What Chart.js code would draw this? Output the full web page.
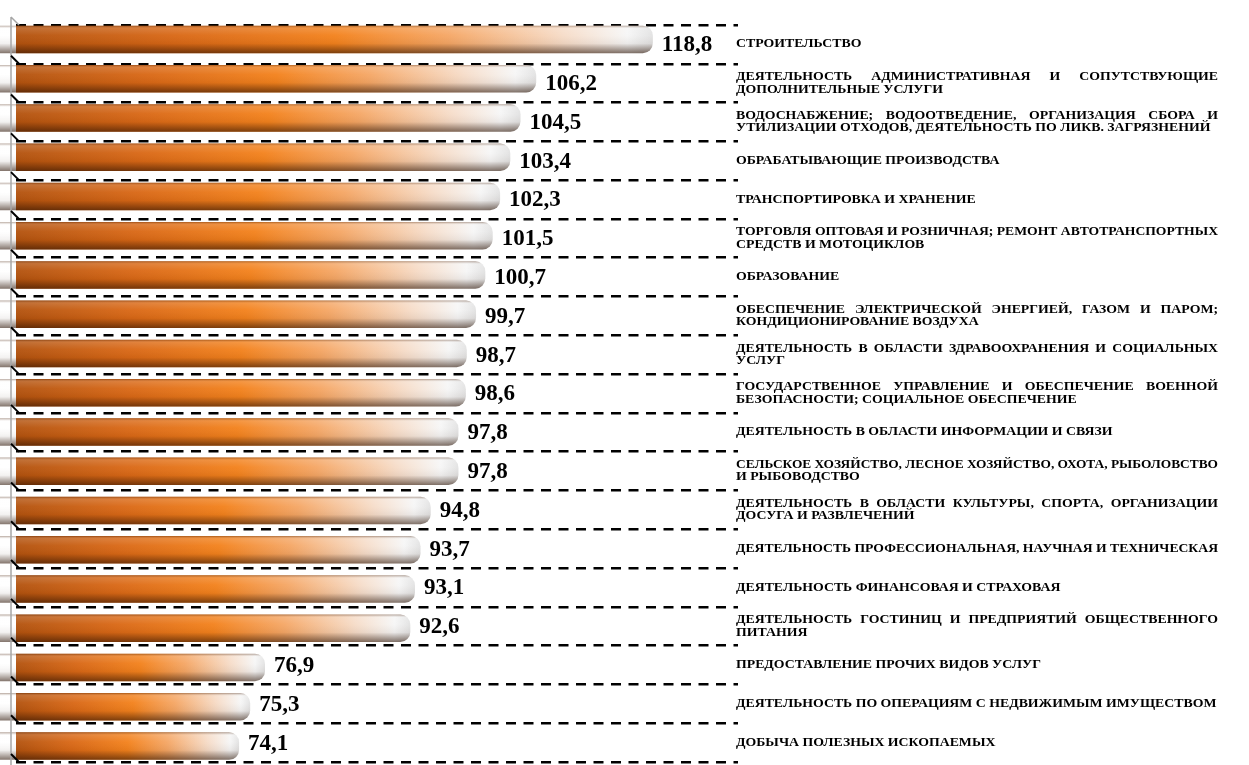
<!DOCTYPE html>
<html lang="ru">
<head>
<meta charset="utf-8">
<title>Индексы по видам экономической деятельности</title>
<script src="https://cdn.jsdelivr.net/npm/chart.js@4"></script>
<style>
  html, body { margin: 0; padding: 0; background: #fff; }
  #chart { display: block; }
</style>
</head>
<body>
<canvas id="chart" width="1249" height="765"></canvas>
<script>
// Виды деятельности (строки подписи как на исходном рисунке), сверху вниз
const categories = [
    ['СТРОИТЕЛЬСТВО'],
    ['ДЕЯТЕЛЬНОСТЬ АДМИНИСТРАТИВНАЯ И СОПУТСТВУЮЩИЕ', 'ДОПОЛНИТЕЛЬНЫЕ УСЛУГИ'],
    ['ВОДОСНАБЖЕНИЕ; ВОДООТВЕДЕНИЕ, ОРГАНИЗАЦИЯ СБОРА И', 'УТИЛИЗАЦИИ ОТХОДОВ, ДЕЯТЕЛЬНОСТЬ ПО ЛИКВ. ЗАГРЯЗНЕНИЙ'],
    ['ОБРАБАТЫВАЮЩИЕ ПРОИЗВОДСТВА'],
    ['ТРАНСПОРТИРОВКА И ХРАНЕНИЕ'],
    ['ТОРГОВЛЯ ОПТОВАЯ И РОЗНИЧНАЯ; РЕМОНТ АВТОТРАНСПОРТНЫХ', 'СРЕДСТВ И МОТОЦИКЛОВ'],
    ['ОБРАЗОВАНИЕ'],
    ['ОБЕСПЕЧЕНИЕ ЭЛЕКТРИЧЕСКОЙ ЭНЕРГИЕЙ, ГАЗОМ И ПАРОМ;', 'КОНДИЦИОНИРОВАНИЕ ВОЗДУХА'],
    ['ДЕЯТЕЛЬНОСТЬ В ОБЛАСТИ ЗДРАВООХРАНЕНИЯ И СОЦИАЛЬНЫХ', 'УСЛУГ'],
    ['ГОСУДАРСТВЕННОЕ УПРАВЛЕНИЕ И ОБЕСПЕЧЕНИЕ ВОЕННОЙ', 'БЕЗОПАСНОСТИ; СОЦИАЛЬНОЕ ОБЕСПЕЧЕНИЕ'],
    ['ДЕЯТЕЛЬНОСТЬ В ОБЛАСТИ ИНФОРМАЦИИ И СВЯЗИ'],
    ['СЕЛЬСКОЕ ХОЗЯЙСТВО, ЛЕСНОЕ ХОЗЯЙСТВО, ОХОТА, РЫБОЛОВСТВО', 'И РЫБОВОДСТВО'],
    ['ДЕЯТЕЛЬНОСТЬ В ОБЛАСТИ КУЛЬТУРЫ, СПОРТА, ОРГАНИЗАЦИИ', 'ДОСУГА И РАЗВЛЕЧЕНИЙ'],
    ['ДЕЯТЕЛЬНОСТЬ ПРОФЕССИОНАЛЬНАЯ, НАУЧНАЯ И ТЕХНИЧЕСКАЯ'],
    ['ДЕЯТЕЛЬНОСТЬ ФИНАНСОВАЯ И СТРАХОВАЯ'],
    ['ДЕЯТЕЛЬНОСТЬ ГОСТИНИЦ И ПРЕДПРИЯТИЙ ОБЩЕСТВЕННОГО', 'ПИТАНИЯ'],
    ['ПРЕДОСТАВЛЕНИЕ ПРОЧИХ ВИДОВ УСЛУГ'],
    ['ДЕЯТЕЛЬНОСТЬ ПО ОПЕРАЦИЯМ С НЕДВИЖИМЫМ ИМУЩЕСТВОМ'],
    ['ДОБЫЧА ПОЛЕЗНЫХ ИСКОПАЕМЫХ']
];

// Значения индекса, %
const values = [118.8, 106.2, 104.5, 103.4, 102.3, 101.5, 100.7, 99.7, 98.7, 98.6,
                97.8, 97.8, 94.8, 93.7, 93.1, 92.6, 76.9, 75.3, 74.1];

// Подписи значений (десятичная запятая)
const valueLabels = ['118,8', '106,2', '104,5', '103,4', '102,3', '101,5', '100,7', '99,7', '98,7', '98,6',
                     '97,8', '97,8', '94,8', '93,7', '93,1', '92,6', '76,9', '75,3', '74,1'];

// Границы шкалы значений
const AXIS_MIN = 50;
const AXIS_MAX = 128;

// Перспектива: верхний бар чуть выше центра строки, нижний чуть ниже
const SHIFT_FIRST = -5;
const SHIFT_LAST = 3.5;

const LABEL_FONT = 'bold 12px "Liberation Serif", "Times New Roman", serif';
const LABEL_SCALE_X = 1.15;    // текст подписей на исходнике слегка растянут
const LABEL_LINE = 12.5;
const LABEL_X = 736;
const LABEL_W = 482;

// Горизонтальный градиент бара: от оранжевого к белому у торца
function barGradient(context) {
    const chart = context.chart;
    if (!chart.chartArea) return '#e9781c';
    const xs = chart.scales.x;
    const x0 = xs.getPixelForValue(AXIS_MIN);
    const x1 = xs.getPixelForValue(context.raw);
    const g = chart.ctx.createLinearGradient(x0, 0, x1, 0);
    g.addColorStop(0, '#b3530f');
    g.addColorStop(0.25, '#d96816');
    g.addColorStop(0.5, '#f3821d');
    g.addColorStop(0.68, '#f5a766');
    g.addColorStop(0.86, '#f6dcc8');
    g.addColorStop(0.96, '#f6f6f6');
    g.addColorStop(1, '#e2e2e2');
    return g;
}

// Рисует строку с выравниванием по ширине
function drawJustified(ctx, text, x, y, width, justify) {
    const words = text.split(' ');
    const natural = ctx.measureText(text).width * LABEL_SCALE_X;
    let sx = LABEL_SCALE_X;
    if (natural > width) sx = sx * width / natural;
    ctx.save();
    ctx.translate(x, y);
    ctx.scale(sx, 1);
    if (!justify || words.length < 2) {
        ctx.fillText(text, 0, 0);
    } else {
        const wordsW = words.reduce((s, w) => s + ctx.measureText(w).width, 0);
        const gap = (width / sx - wordsW) / (words.length - 1);
        let cx = 0;
        words.forEach(w => {
            ctx.fillText(w, cx, 0);
            cx += ctx.measureText(w).width + gap;
        });
    }
    ctx.restore();
}

const barDecor = {
    id: 'barDecor',
    beforeDatasetsDraw(chart) {
        // линейно смещаем бары относительно пунктирных линий (эффект 3D)
        const ys = chart.scales.y;
        const n = chart.data.labels.length;
        const c0 = ys.getPixelForValue(0);
        const c1 = ys.getPixelForValue(n - 1);
        const a = ((c1 + SHIFT_LAST) - (c0 + SHIFT_FIRST)) / (c1 - c0);
        const b = c0 + SHIFT_FIRST - a * c0;
        chart.ctx.save();
        chart.ctx.setTransform(1, 0, 0, a, 0, b);
    },
    afterDatasetsDraw(chart) {
        const ctx = chart.ctx;
        // объём "цилиндра": затенение сверху вниз
        chart.getDatasetMeta(0).data.forEach(bar => {
            const p = bar.getProps(['x', 'y', 'base', 'height'], true);
            const top = p.y - p.height / 2;
            const left = Math.min(p.base, p.x);
            const w = Math.abs(p.x - p.base);
            const g = ctx.createLinearGradient(0, top, 0, top + p.height);
            g.addColorStop(0, 'rgba(70,30,5,0.4)');
            g.addColorStop(0.1, 'rgba(255,255,255,0.16)');
            g.addColorStop(0.35, 'rgba(255,255,255,0.04)');
            g.addColorStop(0.65, 'rgba(40,15,0,0.06)');
            g.addColorStop(1, 'rgba(40,15,0,0.58)');
            ctx.beginPath();
            ctx.roundRect(left, top, w, p.height, [3, 10, 10, 3]);
            ctx.fillStyle = g;
            ctx.fill();
        });
        ctx.restore();
    },
    afterDraw(chart) {
        const ctx = chart.ctx;
        const area = chart.chartArea;
        const ys = chart.scales.y;
        const n = chart.data.labels.length;
        const step = (area.bottom - area.top) / n;

        // левая "стенка" с диагональными засечками
        ctx.save();
        ctx.strokeStyle = '#a6a6a6';
        ctx.lineWidth = 1.5;
        ctx.beginPath();
        ctx.moveTo(11, area.top - 8);
        ctx.lineTo(11, chart.height);
        ctx.moveTo(11, area.top - 8);
        ctx.lineTo(19, area.top);
        ctx.stroke();
        ctx.strokeStyle = '#000';
        ctx.lineWidth = 2;
        for (let i = 1; i <= n; i++) {
            const gy = area.top + i * step;
            ctx.beginPath();
            ctx.moveTo(11, gy - 8);
            ctx.lineTo(19, gy);
            ctx.stroke();
        }
        ctx.restore();

        // подписи значений
        ctx.save();
        ctx.font = 'bold 23px "Liberation Serif", "Times New Roman", serif';
        ctx.fillStyle = '#000';
        ctx.textBaseline = 'middle';
        ctx.textAlign = 'left';
        chart.getDatasetMeta(0).data.forEach((bar, i) => {
            ctx.fillText(valueLabels[i], bar.x + 9, ys.getPixelForValue(i) + 1);
        });
        ctx.restore();

        // подписи категорий справа
        ctx.save();
        ctx.font = LABEL_FONT;
        ctx.fillStyle = '#000';
        ctx.textBaseline = 'middle';
        ctx.textAlign = 'left';
        chart.data.labels.forEach((lines, i) => {
            const cy = ys.getPixelForValue(i);
            const y0 = cy - (lines.length - 1) * LABEL_LINE / 2;
            lines.forEach((line, k) => {
                drawJustified(ctx, line, LABEL_X, y0 + k * LABEL_LINE, LABEL_W, k < lines.length - 1);
            });
        });
        ctx.restore();
    }
};

const ctx = document.getElementById('chart').getContext('2d');
const chart = new Chart(ctx, {
    type: 'bar',
    data: {
        labels: categories,
        datasets: [{
            data: values,
            backgroundColor: barGradient,
            borderWidth: 0,
            borderSkipped: false,
            borderRadius: { topLeft: 3, bottomLeft: 3, topRight: 10, bottomRight: 10 },
            barPercentage: 0.7,
            categoryPercentage: 1
        }]
    },
    options: {
        indexAxis: 'y',
        responsive: false,
        devicePixelRatio: 1,
        animation: false,
        layout: { padding: { top: 25, bottom: 3, left: 16, right: 511 } },
        plugins: {
            legend: { display: false },
            tooltip: { enabled: false }
        },
        scales: {
            x: { display: false, min: AXIS_MIN, max: AXIS_MAX },
            y: {
                offset: true,
                ticks: { display: false },
                grid: { offset: true, color: '#000', lineWidth: 2.5, drawTicks: false },
                border: { display: false, dash: [10, 7.5] }
            }
        }
    },
    plugins: [barDecor]
});
</script>
</body>
</html>
